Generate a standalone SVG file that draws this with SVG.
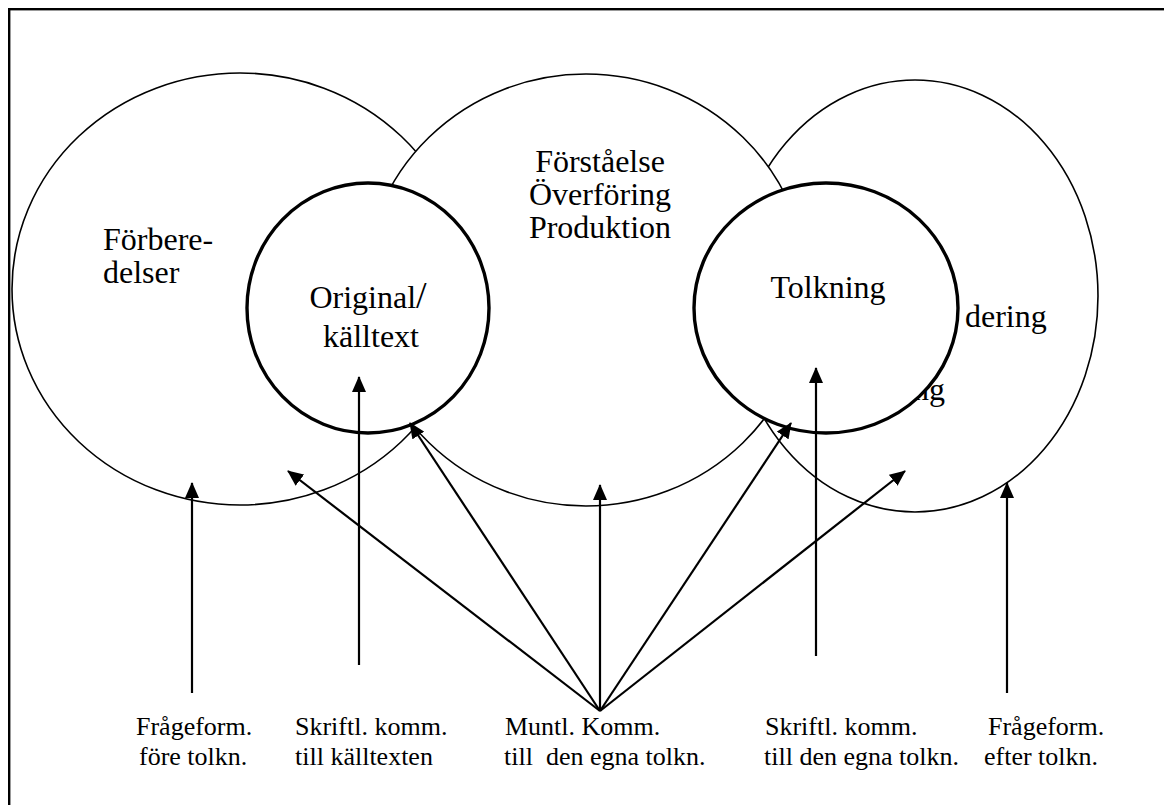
<svg xmlns="http://www.w3.org/2000/svg" width="1164" height="805" viewBox="0 0 1164 805">
<style>
.big{fill:#fff;stroke:#000;stroke-width:1.6}
.core{fill:#fff;stroke:#000;stroke-width:3.4}
.t{font-family:"Liberation Serif","Times New Roman",serif;font-size:32px;fill:#000}
.s{font-family:"Liberation Serif","Times New Roman",serif;font-size:26px;fill:#000;white-space:pre}
.a{stroke:#000;stroke-width:2.2;fill:none;marker-end:url(#ah)}
</style>
<defs>
<marker id="ah" viewBox="0 0 16 14" refX="15" refY="7" markerWidth="16" markerHeight="14" markerUnits="userSpaceOnUse" orient="auto">
<path d="M0,0 L16,7 L0,14 z" fill="#000"/>
</marker>
</defs>
<rect x="9.2" y="9.2" width="1170" height="810" fill="#fff" stroke="#000" stroke-width="2.4"/>
<g id="forberedelser">
<ellipse class="big" cx="240" cy="289" rx="228" ry="216"/>
<text class="t" x="103" y="250">Förbere-</text>
<text class="t" x="103" y="283">delser</text>
</g>
<g id="utvardering">
<ellipse class="big" cx="915" cy="296" rx="183" ry="216"/>
<text class="t" x="965" y="327">dering</text>
<text class="t" x="913" y="400">ng</text>
</g>
<g id="forstaelse">
<ellipse class="big" cx="586" cy="290" rx="222" ry="216"/>
<text class="t" x="600" y="172" text-anchor="middle">Förståelse</text>
<text class="t" x="600" y="205" text-anchor="middle">Överföring</text>
<text class="t" x="600" y="238" text-anchor="middle">Produktion</text>
</g>
<g id="original">
<ellipse class="core" cx="368" cy="308" rx="121" ry="125"/>
<text class="t" x="368" y="308" text-anchor="middle">Original<tspan font-size="38">/</tspan></text>
<text class="t" x="371" y="347" text-anchor="middle">källtext</text>
</g>
<g id="tolkning">
<ellipse class="core" cx="826" cy="308" rx="132" ry="125"/>
<text class="t" x="828" y="298" text-anchor="middle">Tolkning</text>
</g>
<g id="labels">
<text class="s" x="136" y="735">Frågeform.</text>
<text class="s" x="139" y="765">före tolkn.</text>
<text class="s" x="295" y="735">Skriftl. komm.</text>
<text class="s" x="295" y="765">till källtexten</text>
<text class="s" x="505" y="735">Muntl. Komm.</text>
<text class="s" x="504" y="765">till  den egna tolkn.</text>
<text class="s" x="765" y="735">Skriftl. komm.</text>
<text class="s" x="764" y="765">till den egna tolkn.</text>
<text class="s" x="988" y="735">Frågeform.</text>
<text class="s" x="984" y="765">efter tolkn.</text>
</g>
<g id="connectors">
<line class="a" x1="192" y1="693" x2="192" y2="483"/>
<line class="a" x1="359" y1="665" x2="359" y2="377"/>
<line class="a" x1="600" y1="711" x2="288" y2="471"/>
<line class="a" x1="600" y1="711" x2="410" y2="423"/>
<line class="a" x1="600" y1="711" x2="600" y2="485"/>
<line class="a" x1="600" y1="711" x2="791" y2="423"/>
<line class="a" x1="600" y1="711" x2="905" y2="471"/>
<line class="a" x1="816" y1="656" x2="816" y2="368"/>
<line class="a" x1="1007" y1="693" x2="1007" y2="483"/>
</g>
</svg>
